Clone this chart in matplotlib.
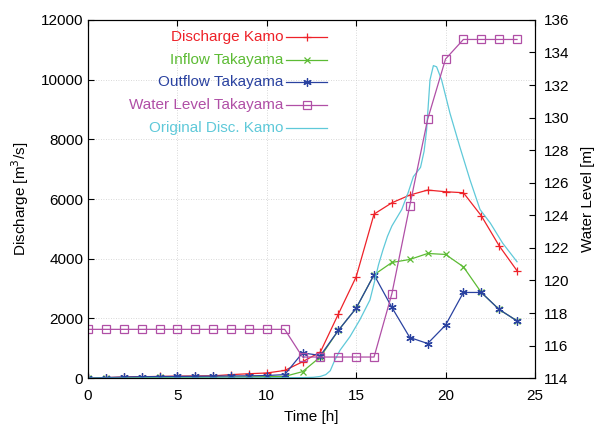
import matplotlib
matplotlib.use("Agg")
import matplotlib.pyplot as plt
from matplotlib.lines import Line2D

plt.rcParams["font.family"] = ["Liberation Sans", "DejaVu Sans"]
plt.rcParams["font.size"] = 11

hours = list(range(25))
discharge_kamo = [0, 20, 40, 50, 60, 70, 75, 80, 120, 150, 175, 260, 550, 880,
                  2145, 3396, 5497, 5876, 6134, 6302, 6246, 6212, 5441, 4435, 3600]
inflow_taka = [0, 10, 15, 20, 25, 30, 30, 35, 40, 45, 50, 60, 220, 715,
               1598, 2346, 3464, 3877, 3977, 4178, 4145, 3731, 2872, 2302, 1921]
outflow_taka = [0, 20, 40, 50, 55, 60, 65, 70, 75, 80, 90, 120, 850, 760,
                1598, 2346, 3464, 2369, 1363, 1162, 1777, 2872, 2872, 2302, 1921]
level_taka = [117] * 12 + [115.3] * 5 + [119.2, 124.6, 129.9, 133.6, 134.8, 134.8, 134.8, 134.8]

orig_t = [0, 4, 8, 11, 12, 12.6, 13.0, 13.3, 13.55, 13.8, 14.1, 14.65, 15.2, 15.77,
          16.0, 16.25, 16.5, 16.75, 17.0, 17.3, 17.55, 17.9, 18.2, 18.6, 18.8, 18.94,
          19.13, 19.32, 19.5, 19.78, 20.25, 20.8, 21.37, 21.93, 22.5, 23.2, 24.0]
orig_kamo = [0, 5, 10, 15, 20, 30, 60, 120, 250, 600, 940, 1390, 1950, 2620,
             3170, 3800, 4300, 4750, 5100, 5400, 5650, 6200, 6750, 7060, 7600, 8310,
             9990, 10470, 10430, 9990, 8870, 7750, 6640, 5650, 5200, 4520, 3900]

c_red = "#ee2229"
c_green = "#5cbb34"
c_blue = "#2a42a0"
c_purple = "#b04fa6"
c_cyan = "#5fc9d9"

fig = plt.figure(figsize=(5.95, 4.24), dpi=100)
ax = fig.add_axes([0.148, 0.108, 0.751, 0.845])
ax2 = ax.twinx()

ax.plot(hours, discharge_kamo, color=c_red, lw=0.9, marker="+", ms=6, mew=0.9)
ax.plot(hours, inflow_taka, color=c_green, lw=0.9, marker="x", ms=5, mew=0.9)
ax.plot(hours, outflow_taka, color=c_blue, lw=0.9, marker=(6, 2, 0), ms=6, mew=0.9)
ax.plot(orig_t, orig_kamo, color=c_cyan, lw=0.9)
ax2.plot(hours, level_taka, color=c_purple, lw=0.9, marker="s", ms=5.5, mew=0.9,
         mfc="none")

ax.set_xlim(0, 25)
ax.set_ylim(0, 12000)
ax2.set_ylim(114, 136)
ax.set_xticks([0, 5, 10, 15, 20, 25])
ax.set_yticks(range(0, 12001, 2000))
ax2.set_yticks(range(114, 137, 2))

ax.grid(True, color="#cccccc", ls=(0, (1, 2)), lw=0.6)
ax.tick_params(direction="in", length=4, top=True, right=False)
ax.tick_params(axis="x", pad=8)
ax2.tick_params(direction="in", length=4, pad=6.5)
ax.set_xlabel("Time [h]", labelpad=5)
ax.set_ylabel("Discharge [m$^3$/s]", labelpad=7)
ax2.set_ylabel("Water Level [m]", labelpad=8)

# gnuplot-style key: text right-aligned before the sample line
labels = ["Discharge Kamo", "Inflow Takayama", "Outflow Takayama",
          "Water Level Takayama", "Original Disc. Kamo"]
colors = [c_red, c_green, c_blue, c_purple, c_cyan]
styles = [dict(marker="+", ms=6), dict(marker="x", ms=5), dict(marker=(6, 2, 0), ms=6),
          dict(marker="s", ms=5.5, mfc="none"), dict(marker=None)]
ys = [0.953, 0.887, 0.826, 0.763, 0.699]
for lab, col, st, yy in zip(labels, colors, styles, ys):
    ax2.text(0.438, yy, lab, color=col, ha="right", va="center",
             transform=ax2.transAxes)
    ln = Line2D([0.443, 0.489, 0.535], [yy, yy, yy], color=col, lw=0.9, mew=0.9,
                markevery=[1], transform=ax2.transAxes, **st)
    ax2.add_line(ln)

fig.savefig("out.png", dpi=100)
